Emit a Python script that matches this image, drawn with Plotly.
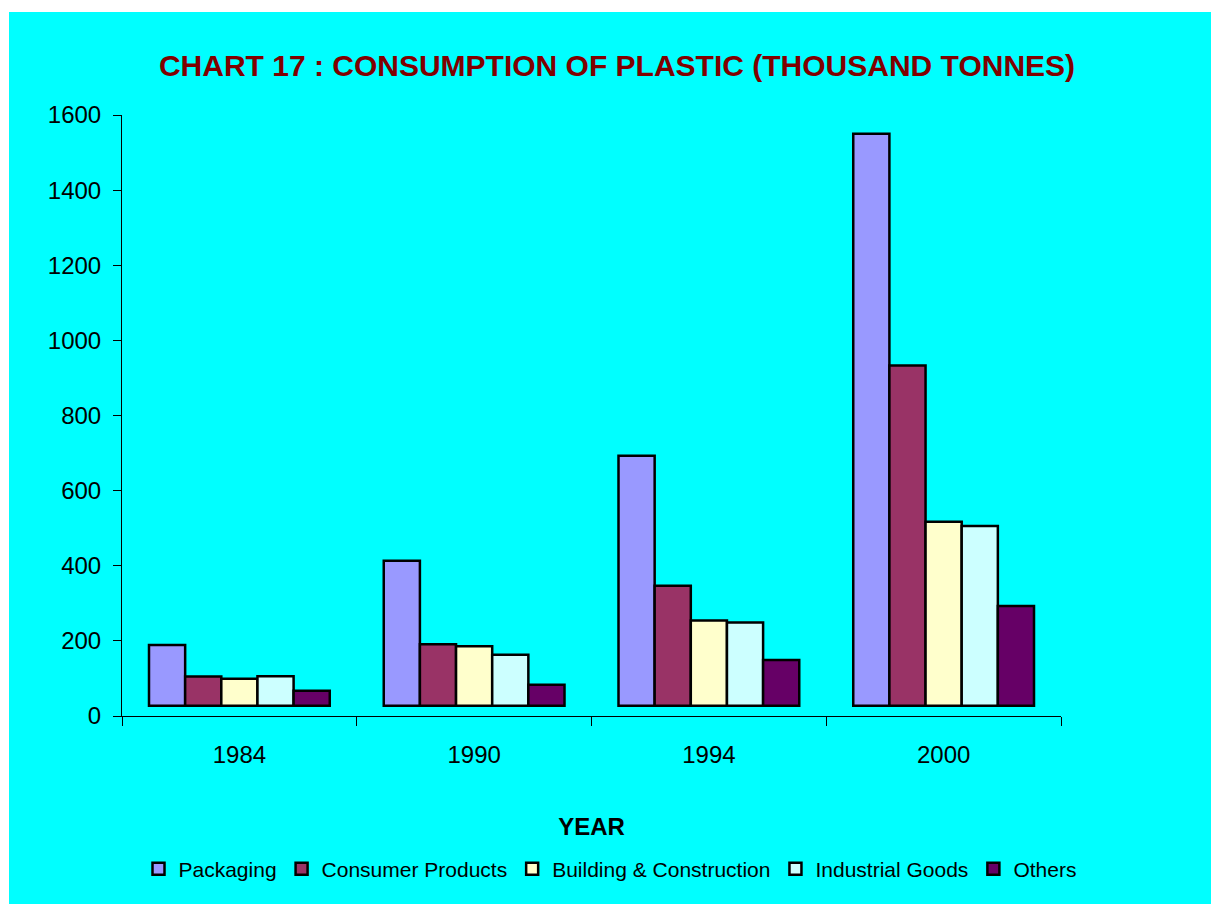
import plotly.graph_objects as go

# Consumption of plastic by end use, thousand tonnes
years = ["1984", "1990", "1994", "2000"]
packaging = [189, 413, 693, 1550]
consumer_products = [105, 191, 347, 933]
building_construction = [99, 186, 254, 517]
industrial_goods = [106, 163, 249, 506]
others = [67, 83, 149, 293]

series_names = ["Packaging", "Consumer Products", "Building & Construction",
                "Industrial Goods", "Others"]
series_values = [packaging, consumer_products, building_construction,
                 industrial_goods, others]
series_colors = ["#9999FF", "#993366", "#FFFFCC", "#CCFFFF", "#660066"]

# Columns stand on a raised floor slightly above the zero line
FLOOR = 27

W, H = 1211, 904
ML, MR, MT, MB = 122, 150, 115, 188
PW, PH = W - ML - MR, H - MT - MB

fig = go.Figure()
for name, vals, col in zip(series_names, series_values, series_colors):
    fig.add_trace(go.Bar(
        x=years,
        y=[v - FLOOR for v in vals],
        base=FLOOR,
        name=name,
        marker=dict(color=col, line=dict(color="black", width=2.5)),
    ))

# Cyan page with a thin white strip along the top and left edges
fig.add_shape(
    type="rect", layer="below", xref="paper", yref="paper",
    x0=(9 - ML) / PW, x1=(W - ML) / PW,
    y0=-(MB) / PH, y1=(H - MB - 12) / PH,
    fillcolor="#00FFFF", line=dict(width=0),
)

fig.update_layout(
    width=W, height=H,
    margin=dict(l=ML, r=MR, t=MT, b=MB),
    paper_bgcolor="white",
    plot_bgcolor="rgba(0,0,0,0)",
    font=dict(family="Liberation Sans, Arial, sans-serif", color="black"),
    barmode="group",
    bargap=0.23,
    bargroupgap=0,
    title=dict(
        text="<b>CHART 17 : CONSUMPTION OF PLASTIC (THOUSAND TONNES)</b>",
        font=dict(size=30, color="#800000"),
        x=617 / W, xanchor="center", xref="container",
        y=1 - 65 / H, yanchor="middle", yref="container",
    ),
    xaxis=dict(
        showline=True, linecolor="black", linewidth=1,
        ticks="outside", ticklen=9, tickcolor="black",
        tickson="boundaries",
        tickfont=dict(size=24),
        ticklabelstandoff=17,
        showgrid=False,
        title=dict(text="<b>YEAR</b>", font=dict(size=24), standoff=51),
    ),
    yaxis=dict(
        range=[0, 1600], dtick=200,
        showline=True, linecolor="black", linewidth=1,
        ticks="outside", ticklen=8, tickcolor="black",
        tickfont=dict(size=24),
        ticklabelstandoff=7,
        showgrid=False, zeroline=False,
    ),
    legend=dict(
        orientation="h",
        x=610 / W, xanchor="center", xref="container",
        y=1 - 869 / H, yanchor="middle", yref="container",
        font=dict(size=21),
        itemwidth=30,
        bgcolor="rgba(0,0,0,0)",
    ),
    showlegend=True,
)

fig.write_html("out.html")
